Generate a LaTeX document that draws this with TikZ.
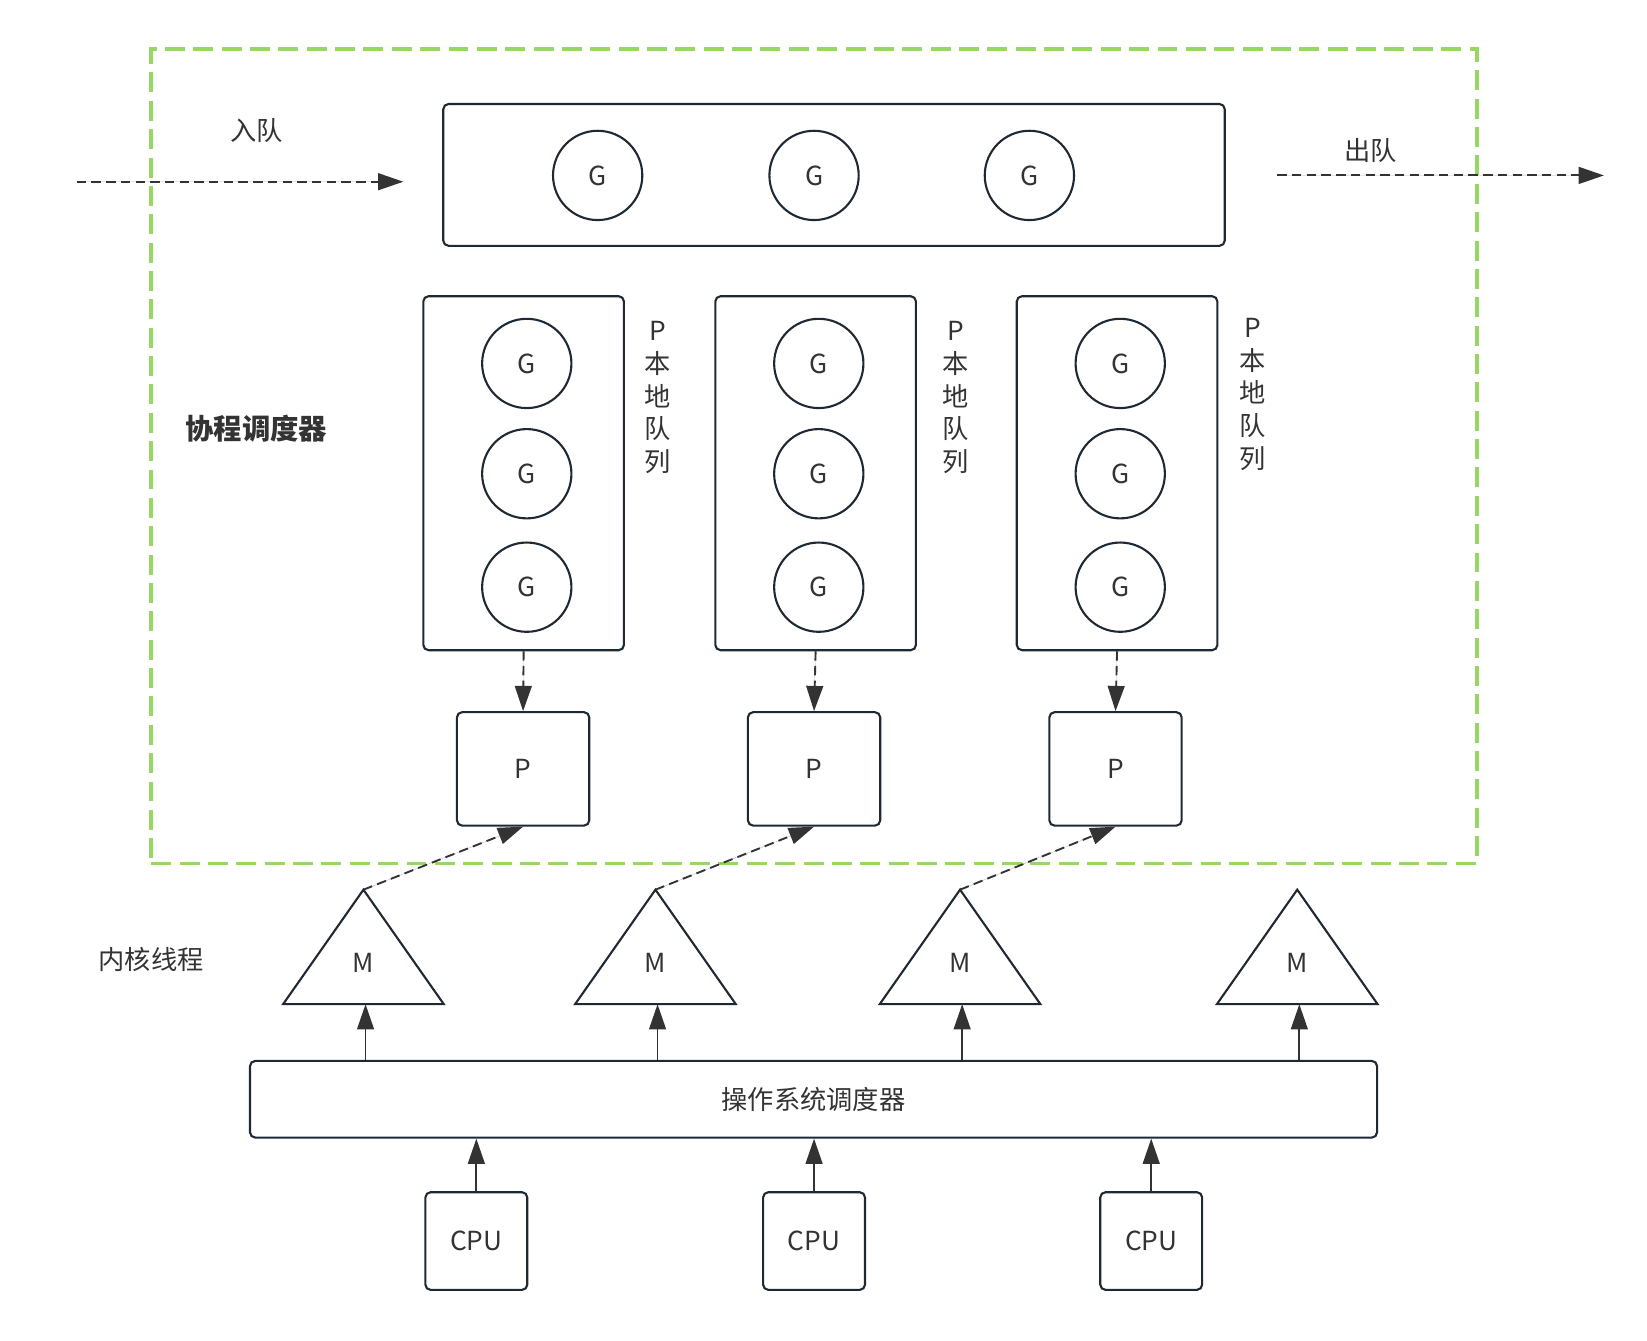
\documentclass[tikz,border=0pt]{standalone}
\usepackage{fontspec}
\setmainfont{Noto Sans CJK SC}
\usetikzlibrary{arrows.meta,calc}
\definecolor{linec}{HTML}{1F2933}
\definecolor{textc}{HTML}{333333}
\definecolor{greenc}{RGB}{151,215,100}
\begin{document}
\begin{tikzpicture}[x=0.5pt,y=-0.5pt,
  txt/.style={text=textc, font=\fontsize{12.5}{15.5}\selectfont, inner sep=0pt},
  box/.style={txt, draw=linec, line width=1pt, rounded corners=2.5pt},
  gnode/.style={txt, circle, draw=linec, line width=1pt, minimum size=42.5pt},
  tri/.style={draw=linec, line width=1pt, line join=miter},
  tip/.style={-{Triangle[length=12pt,width=8pt]}},
  darr/.style={tip, draw=textc, fill=textc, line width=0.9pt, dash pattern=on 4.5pt off 2.5pt},
  sarr/.style={tip, draw=textc, fill=textc, line width=0.9pt},
  grp/.style={draw=greenc, line width=1.8pt, dash pattern=on 9.5pt off 4pt},
]
\useasboundingbox (0,0) rectangle (1568,1276);

% coroutine scheduler group
\node[grp, minimum width=631pt, minimum height=387.5pt, inner sep=0pt] (grpbox) at (775,434.5) {};
\node[txt, font=\fontsize{13.5}{16}\selectfont\bfseries] (grplbl) at (244,408) {协程调度器};

% global queue
\node[box, minimum width=372pt, minimum height=67.5pt] (gq) at (794,166.5) {};
\node[gnode] (gg1) at (569,167) {G};
\node[gnode] (gg2) at (775,167) {G};
\node[gnode] (gg3) at (980,167) {G};

% enqueue / dequeue
\coordinate (inS) at (73,173);
\coordinate (inE) at (384,173);
\coordinate (outS) at (1216,167);
\coordinate (outE) at (1527,167);
\draw[darr] (inS) -- (inE);
\draw[darr] (outS) -- (outE);
\node[txt] (inlbl) at (244,124) {入队};
\node[txt] (outlbl) at (1305,143) {出队};

% local queues
\foreach \i/\x/\lx/\ly in {1/498.5/626/378.5, 2/776.5/910/378.5, 3/1063.5/1193/375.5} {
  \node[box, minimum width=95.5pt, minimum height=168.5pt] (lq\i) at (\x,450.5) {};
  \node[gnode] (lq\i g1) at (\x+3,346) {G};
  \node[gnode] (lq\i g2) at (\x+3,451) {G};
  \node[gnode] (lq\i g3) at (\x+3,559) {G};
  \node[txt, align=center] (lq\i lbl) at (\lx,\ly) {P\\本\\地\\队\\列};
}

% P nodes
\node[box, minimum width=63pt, minimum height=54pt] (p1) at (498,732) {P};
\node[box, minimum width=63pt, minimum height=54pt] (p2) at (775,732) {P};
\node[box, minimum width=63pt, minimum height=54pt] (p3) at (1062,732) {P};

\draw[darr] (lq1.south) -- (p1.north);
\draw[darr] (lq2.south) -- (p2.north);
\draw[darr] (lq3.south) -- (p3.north);

% M triangles
\foreach \i/\x in {1/346, 2/624, 3/914, 4/1235} {
  \draw[tri] (\x,847) coordinate (m\i top) -- (\x+76.5,956) -- (\x-76.5,956) -- cycle;
  \coordinate (m\i base) at (\x+2,956);
  \node[txt] (m\i) at (\x,917) {M};
}
\node[txt] (ktlbl) at (144,913) {内核线程};

\draw[darr] (m1top) -- (p1.south);
\draw[darr] (m2top) -- (p2.south);
\draw[darr] (m3top) -- (p3.south);

% OS scheduler
\node[box, minimum width=536.5pt, minimum height=36.5pt] (os) at (774.5,1046.5) {操作系统调度器};
\foreach \i in {1,2,3,4} {
  \draw[sarr] (os.north -| m\i base) -- (m\i base);
}

% CPUs
\node[box, minimum width=48.5pt, minimum height=46.5pt] (cpu1) at (453.5,1181.5) {CPU};
\node[box, minimum width=48.5pt, minimum height=46.5pt] (cpu2) at (775,1181.5) {CPU};
\node[box, minimum width=48.5pt, minimum height=46.5pt] (cpu3) at (1096,1181.5) {CPU};
\draw[sarr] (cpu1.north) -- (cpu1.north |- os.south);
\draw[sarr] (cpu2.north) -- (cpu2.north |- os.south);
\draw[sarr] (cpu3.north) -- (cpu3.north |- os.south);
\end{tikzpicture}
\end{document}
